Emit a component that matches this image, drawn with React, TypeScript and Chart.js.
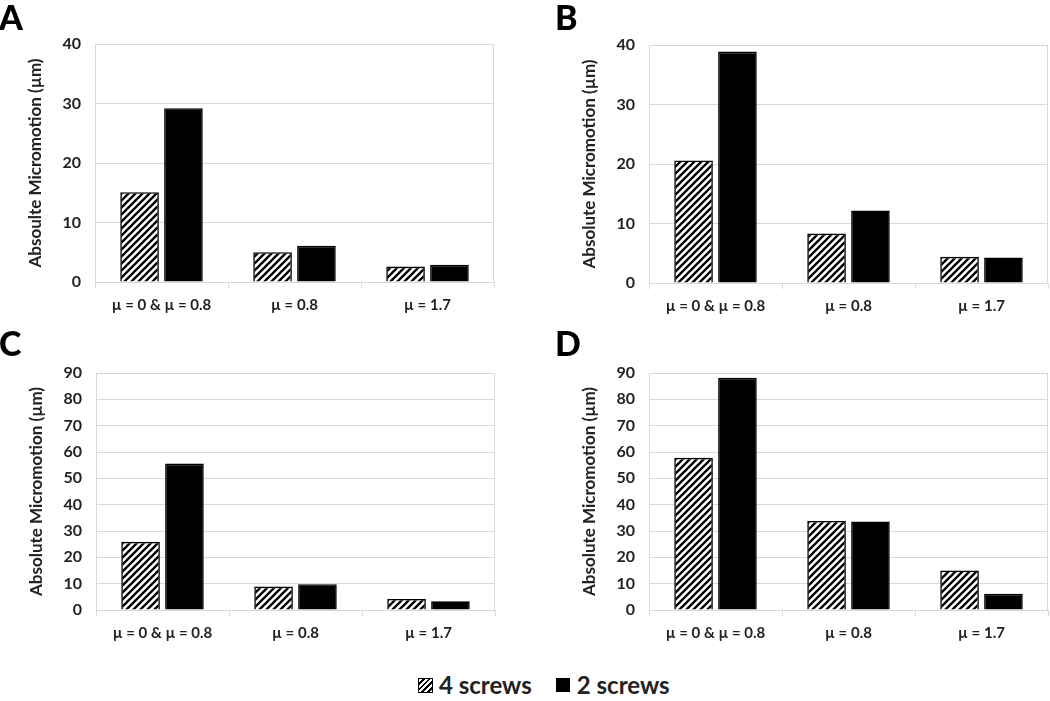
import React, { useEffect, useRef } from 'react';
import { Chart, registerables } from 'chart.js';

Chart.register(...registerables);

const categories = ['µ = 0 & µ = 0.8', 'µ = 0.8', 'µ = 1.7'];
const seriesNames = ['4 screws', '2 screws'];

const panelA4 = [15.1, 5.0, 2.6];
const panelA2 = [29.2, 6.1, 2.9];
const panelB4 = [20.6, 8.3, 4.4];
const panelB2 = [38.9, 12.2, 4.3];
const panelC4 = [25.9, 8.9, 4.2];
const panelC2 = [55.6, 9.8, 3.3];
const panelD4 = [57.8, 33.8, 15.0];
const panelD2 = [88.2, 33.6, 6.2];

const yTitleA = 'Absoulte Micromotion (µm)';
const yTitleOther = 'Absolute Micromotion (µm)';
const yMaxTop = 40;
const yMaxBottom = 90;
const yStep = 10;
const panelLetters = ['A', 'B', 'C', 'D'];

const FONT = 'Lato, "Open Sans", sans-serif';
const GRID = '#d9d9d9';
const TEXT = '#222222';

function makeHatch(): CanvasPattern | string {
  const c = document.createElement('canvas');
  const s = 7;
  c.width = s;
  c.height = s;
  const ctx = c.getContext('2d');
  if (!ctx) return '#888';
  ctx.fillStyle = '#ffffff';
  ctx.fillRect(0, 0, s, s);
  ctx.strokeStyle = '#000000';
  ctx.lineWidth = 2.3;
  ctx.beginPath();
  ctx.moveTo(-1, s + 1);
  ctx.lineTo(s + 1, -1);
  ctx.moveTo(-s / 2 - 1, s / 2 + 1);
  ctx.lineTo(s / 2 + 1, -s / 2 - 1);
  ctx.moveTo(s / 2 - 1, s * 1.5 + 1);
  ctx.lineTo(s * 1.5 + 1, s / 2 - 1);
  ctx.stroke();
  return ctx.createPattern(c, 'repeat') || '#888';
}

const framePlugin = {
  id: 'frameRight',
  beforeDatasetsDraw(chart: any) {
    const { ctx, chartArea } = chart;
    ctx.save();
    ctx.strokeStyle = GRID;
    ctx.lineWidth = 1;
    ctx.beginPath();
    ctx.moveTo(chartArea.right - 0.5, chartArea.top);
    ctx.lineTo(chartArea.right - 0.5, chartArea.bottom);
    ctx.stroke();
    ctx.restore();
  },
};

type Box = { x: number; y: number; w: number; h: number; padRight: number; padTop: number };

function Panel({ box, title, v4, v2, max }: { box: Box; title: string; v4: number[]; v2: number[]; max: number }) {
  const ref = useRef<HTMLCanvasElement>(null);
  useEffect(() => {
    const hatch = makeHatch();
    const chart = new Chart(ref.current as HTMLCanvasElement, {
      type: 'bar',
      data: {
        labels: categories,
        datasets: [
          {
            label: seriesNames[0],
            data: v4,
            backgroundColor: hatch as any,
            borderColor: '#000000',
            borderWidth: 1.6,
            categoryPercentage: 0.66,
            barPercentage: 0.88,
          },
          {
            label: seriesNames[1],
            data: v2,
            backgroundColor: '#000000',
            borderColor: '#000000',
            borderWidth: 1.6,
            categoryPercentage: 0.66,
            barPercentage: 0.88,
          },
        ],
      },
      options: {
        responsive: false,
        maintainAspectRatio: false,
        animation: false,
        layout: { padding: { top: box.padTop, right: box.padRight, bottom: 0, left: 0 } },
        plugins: { legend: { display: false }, tooltip: { enabled: false } },
        scales: {
          x: {
            grid: { offset: true, drawOnChartArea: false, drawTicks: true, tickLength: 6, color: GRID },
            border: { color: GRID },
            ticks: {
              font: { family: FONT, size: 15, weight: 'bold' },
              color: TEXT,
              padding: 8,
              maxRotation: 0,
              autoSkip: false,
            },
            afterFit: (s: any) => {
              s.height = 38;
            },
          },
          y: {
            min: 0,
            max,
            ticks: {
              stepSize: yStep,
              font: { family: FONT, size: 16, weight: 'bold' },
              color: TEXT,
              padding: 14,
            },
            grid: { color: GRID, drawTicks: false },
            border: { color: GRID },
            title: {
              display: true,
              text: title,
              font: { family: FONT, size: 17, weight: 'bold' },
              color: TEXT,
              padding: { top: 25, bottom: 0 },
            },
            afterFit: (s: any) => {
              s.width = 95;
            },
          },
        },
      } as any,
      plugins: [framePlugin],
    });
    return () => chart.destroy();
  }, []);
  return (
    <canvas
      ref={ref}
      width={box.w}
      height={box.h}
      style={{ position: 'absolute', left: box.x, top: box.y, width: box.w, height: box.h }}
    />
  );
}

const letterStyle = (x: number, y: number): React.CSSProperties => ({
  position: 'absolute',
  left: x,
  top: y,
  fontFamily: FONT,
  fontWeight: 900,
  fontSize: 34,
  lineHeight: '34px',
  color: '#000',
});

export default function App() {
  const boxes: Box[] = [
    { x: 0, y: 0, w: 520, h: 320, padRight: 26, padTop: 44 },
    { x: 554, y: 1, w: 496, h: 320, padRight: 2, padTop: 44 },
    { x: 1, y: 329, w: 519, h: 319, padRight: 25, padTop: 44 },
    { x: 554, y: 329, w: 496, h: 319, padRight: 2, padTop: 44 },
  ];
  const letterPos = [
    [-1, 0],
    [555, 0],
    [-1, 326],
    [555, 326],
  ];
  const legendText: React.CSSProperties = {
    fontFamily: FONT,
    fontWeight: 'bold',
    fontSize: 24,
    color: TEXT,
    lineHeight: '28px',
  };
  return (
    <div style={{ position: 'absolute', left: 0, top: 0, width: 1050, height: 701, overflow: 'hidden', background: '#fff' }}>
      <Panel box={boxes[0]} title={yTitleA} v4={panelA4} v2={panelA2} max={yMaxTop} />
      <Panel box={boxes[1]} title={yTitleOther} v4={panelB4} v2={panelB2} max={yMaxTop} />
      <Panel box={boxes[2]} title={yTitleOther} v4={panelC4} v2={panelC2} max={yMaxBottom} />
      <Panel box={boxes[3]} title={yTitleOther} v4={panelD4} v2={panelD2} max={yMaxBottom} />
      {panelLetters.map((l, i) => (
        <div key={l} style={letterStyle(letterPos[i][0], letterPos[i][1])}>
          {l}
        </div>
      ))}
      <div style={{ position: 'absolute', left: 418, top: 671, display: 'flex', alignItems: 'center' }}>
        <div
          style={{
            width: 13,
            height: 13,
            border: '1px solid #000',
            background: 'repeating-linear-gradient(-45deg, #fff 0px, #fff 2px, #000 2px, #000 4px)',
          }}
        />
        <span style={{ ...legendText, marginLeft: 6 }}>{seriesNames[0]}</span>
        <div style={{ width: 14, height: 14, background: '#000', marginLeft: 24 }} />
        <span style={{ ...legendText, marginLeft: 7 }}>{seriesNames[1]}</span>
      </div>
    </div>
  );
}
